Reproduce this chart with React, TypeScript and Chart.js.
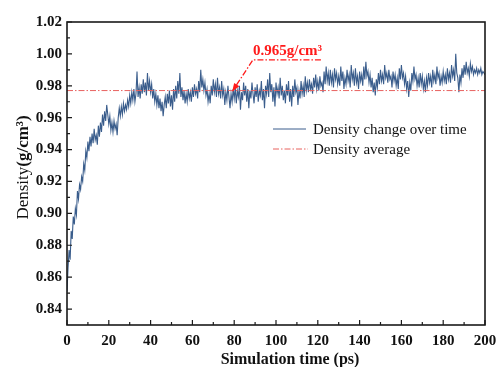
import React, { useEffect, useRef } from "react";
import { Chart, registerables } from "chart.js";

Chart.register(...registerables);

const FONT = '"Liberation Serif", "Times New Roman", serif';

// simulation time step between samples (ps)
const timeStepPs = 0.5;

// density samples (g/cm3), one per 0.5 ps from 0 to 200 ps
const density: number[] = [
  0.851, 0.866, 0.877, 0.871, 0.889, 0.884, 0.898, 0.893, 0.903, 0.899, 0.914, 0.909, 0.918, 0.915, 0.923, 0.920, 0.931, 0.927, 0.939, 0.935,
  0.945, 0.939, 0.948, 0.942, 0.950, 0.944, 0.953, 0.946, 0.949, 0.943, 0.955, 0.948, 0.957, 0.951, 0.962, 0.955, 0.964, 0.958, 0.968, 0.962,
  0.956, 0.961, 0.952, 0.957, 0.951, 0.958, 0.953, 0.956, 0.949, 0.960, 0.966, 0.961, 0.967, 0.962, 0.969, 0.964, 0.968, 0.965, 0.971, 0.967,
  0.974, 0.969, 0.976, 0.971, 0.978, 0.970, 0.975, 0.989, 0.973, 0.979, 0.972, 0.981, 0.975, 0.984, 0.976, 0.982, 0.974, 0.988, 0.977, 0.983,
  0.976, 0.981, 0.972, 0.978, 0.970, 0.975, 0.968, 0.974, 0.966, 0.972, 0.964, 0.970, 0.961, 0.968, 0.973, 0.966, 0.975, 0.969, 0.977, 0.967,
  0.974, 0.965, 0.978, 0.970, 0.980, 0.972, 0.983, 0.975, 0.988, 0.973, 0.979, 0.971, 0.977, 0.969, 0.975, 0.970, 0.978, 0.972, 0.976, 0.970,
  0.979, 0.973, 0.981, 0.975, 0.978, 0.972, 0.983, 0.976, 0.990, 0.979, 0.984, 0.977, 0.982, 0.974, 0.978, 0.970, 0.975, 0.969, 0.980, 0.974,
  0.984, 0.976, 0.981, 0.973, 0.985, 0.975, 0.979, 0.972, 0.983, 0.974, 0.978, 0.968, 0.976, 0.971, 0.980, 0.973, 0.966, 0.975, 0.970, 0.978,
  0.972, 0.979, 0.969, 0.977, 0.973, 0.980, 0.965, 0.976, 0.971, 0.982, 0.974, 0.980, 0.970, 0.978, 0.966, 0.977, 0.972, 0.982, 0.975, 0.969,
  0.979, 0.973, 0.981, 0.970, 0.977, 0.974, 0.983, 0.971, 0.978, 0.966, 0.980, 0.975, 0.984, 0.973, 0.988, 0.976, 0.981, 0.970, 0.979, 0.967,
  0.982, 0.975, 0.979, 0.972, 0.985, 0.974, 0.980, 0.971, 0.977, 0.969, 0.981, 0.974, 0.983, 0.970, 0.978, 0.967, 0.980, 0.973, 0.984, 0.976,
  0.979, 0.968, 0.977, 0.972, 0.983, 0.975, 0.980, 0.973, 0.986, 0.977, 0.982, 0.976, 0.984, 0.978, 0.981, 0.975, 0.985, 0.979, 0.987, 0.978,
  0.983, 0.977, 0.986, 0.980, 0.982, 0.976, 0.989, 0.981, 0.992, 0.983, 0.988, 0.980, 0.990, 0.982, 0.987, 0.979, 0.991, 0.984, 0.988, 0.981,
  0.986, 0.980, 0.992, 0.983, 0.989, 0.978, 0.985, 0.981, 0.990, 0.983, 0.987, 0.979, 0.993, 0.984, 0.988, 0.980, 0.991, 0.982, 0.986, 0.978,
  0.989, 0.983, 0.987, 0.980, 0.992, 0.984, 0.995, 0.986, 0.989, 0.982, 0.987, 0.979, 0.985, 0.976, 0.982, 0.974, 0.984, 0.979, 0.988, 0.981,
  0.990, 0.983, 0.987, 0.981, 0.993, 0.985, 0.988, 0.982, 0.990, 0.984, 0.986, 0.979, 0.989, 0.983, 0.987, 0.980, 0.985, 0.978, 0.991, 0.984,
  0.993, 0.985, 0.988, 0.981, 0.986, 0.978, 0.983, 0.973, 0.982, 0.977, 0.988, 0.983, 0.992, 0.984, 0.987, 0.980, 0.985, 0.979, 0.988, 0.981,
  0.986, 0.978, 0.983, 0.976, 0.985, 0.980, 0.988, 0.982, 0.986, 0.979, 0.990, 0.983, 0.987, 0.981, 0.992, 0.985, 0.988, 0.980, 0.986, 0.982,
  0.989, 0.983, 0.987, 0.981, 0.991, 0.984, 0.988, 0.982, 0.993, 0.986, 0.990, 0.983, 1.000, 0.988, 0.985, 0.976, 0.987, 0.982, 0.991, 0.985,
  0.993, 0.987, 0.995, 0.988, 0.991, 0.986, 0.994, 0.989, 0.992, 0.987, 0.990, 0.988, 0.991, 0.987, 0.990, 0.988, 0.991, 0.987, 0.989, 0.988,
  0.987,
];

const averageDensity = 0.977;
const timeRange = [0, 200];

const xTicks = [0, 20, 40, 60, 80, 100, 120, 140, 160, 180, 200];
const xMinorTicks = [10, 30, 50, 70, 90, 110, 130, 150, 170, 190];
const yTicks = [0.84, 0.86, 0.88, 0.9, 0.92, 0.94, 0.96, 0.98, 1.0, 1.02];
const yMinorTicks = [0.85, 0.87, 0.89, 0.91, 0.93, 0.95, 0.97, 0.99, 1.01];
const yRange = [0.83, 1.02];

const seriesLabels = ["Density change over time", "Density average"];
const xTitle = "Simulation time (ps)";
const yTitleMain = "Density";
const yTitleUnit = "(g/cm³)";

const annotationText = "0.965g/cm³";
const annotationTip = [79, 0.9763];
const annotationElbow = [89, 0.9963];
const annotationEnd = [121.5, 0.9963];

const BLUE = "#3a5d8c";
const AVG_RED = "#e8625f";
const ANN_RED = "#ff1a1a";

const decorPlugin = {
  id: "decor",
  afterDatasetsDraw(chart: any) {
    const { ctx, chartArea: ca, scales } = chart;
    const xs = scales.x;
    const ys = scales.y;
    ctx.save();

    // annotation arrow + text
    const tx = xs.getPixelForValue(annotationTip[0]);
    const ty = ys.getPixelForValue(annotationTip[1]);
    const ex = xs.getPixelForValue(annotationElbow[0]);
    const ey = ys.getPixelForValue(annotationElbow[1]);
    const endX = xs.getPixelForValue(annotationEnd[0]);
    const endY = ys.getPixelForValue(annotationEnd[1]);
    ctx.strokeStyle = ANN_RED;
    ctx.fillStyle = ANN_RED;
    ctx.lineWidth = 1.3;
    ctx.setLineDash([6, 2, 1.5, 2]);
    const ang = Math.atan2(ty - ey, tx - ex);
    const headLen = 9;
    ctx.beginPath();
    ctx.moveTo(endX, endY);
    ctx.lineTo(ex, ey);
    ctx.lineTo(tx - Math.cos(ang) * headLen * 0.8, ty - Math.sin(ang) * headLen * 0.8);
    ctx.stroke();
    ctx.setLineDash([]);
    ctx.beginPath();
    ctx.moveTo(tx, ty);
    ctx.lineTo(tx - Math.cos(ang - 0.35) * headLen, ty - Math.sin(ang - 0.35) * headLen);
    ctx.lineTo(tx - Math.cos(ang + 0.35) * headLen, ty - Math.sin(ang + 0.35) * headLen);
    ctx.closePath();
    ctx.fill();
    ctx.font = `bold 15px ${FONT}`;
    ctx.textAlign = "left";
    ctx.textBaseline = "alphabetic";
    ctx.fillText(annotationText, ex, ey - 5);

    // legend
    const lx = ca.left + 206;
    const ly1 = ca.top + 107;
    const ly2 = ca.top + 127;
    ctx.lineWidth = 1;
    ctx.strokeStyle = BLUE;
    ctx.beginPath();
    ctx.moveTo(lx, ly1);
    ctx.lineTo(lx + 33, ly1);
    ctx.stroke();
    ctx.strokeStyle = AVG_RED;
    ctx.setLineDash([6, 2, 1.5, 2]);
    ctx.beginPath();
    ctx.moveTo(lx, ly2);
    ctx.lineTo(lx + 35, ly2);
    ctx.stroke();
    ctx.setLineDash([]);
    ctx.fillStyle = "#111";
    ctx.font = `15px ${FONT}`;
    ctx.textBaseline = "middle";
    ctx.fillText(seriesLabels[0], lx + 40, ly1 + 1);
    ctx.fillText(seriesLabels[1], lx + 40, ly2 + 1);

    // frame
    ctx.strokeStyle = "#1a1a1a";
    ctx.lineWidth = 1.6;
    ctx.strokeRect(ca.left, ca.top, ca.right - ca.left, ca.bottom - ca.top);

    // ticks (inward)
    ctx.lineWidth = 1.2;
    ctx.beginPath();
    xTicks.forEach((v) => {
      const p = xs.getPixelForValue(v);
      ctx.moveTo(p, ca.bottom);
      ctx.lineTo(p, ca.bottom - 5);
    });
    xMinorTicks.forEach((v) => {
      const p = xs.getPixelForValue(v);
      ctx.moveTo(p, ca.bottom);
      ctx.lineTo(p, ca.bottom - 3);
    });
    yTicks.forEach((v) => {
      const p = ys.getPixelForValue(v);
      ctx.moveTo(ca.left, p);
      ctx.lineTo(ca.left + 5, p);
    });
    yMinorTicks.forEach((v) => {
      const p = ys.getPixelForValue(v);
      ctx.moveTo(ca.left, p);
      ctx.lineTo(ca.left + 3, p);
    });
    ctx.stroke();

    // axis titles
    ctx.fillStyle = "#111";
    ctx.font = `bold 16px ${FONT}`;
    ctx.textAlign = "center";
    ctx.textBaseline = "alphabetic";
    ctx.fillText(xTitle, (ca.left + ca.right) / 2 + 14, ca.bottom + 39);

    ctx.save();
    ctx.translate(28, (ca.top + ca.bottom) / 2 - 6);
    ctx.rotate(-Math.PI / 2);
    ctx.textAlign = "left";
    ctx.font = `17px ${FONT}`;
    const w1 = ctx.measureText(yTitleMain).width;
    ctx.font = `bold 17px ${FONT}`;
    const w2 = ctx.measureText(yTitleUnit).width;
    const start = -(w1 + w2) / 2;
    ctx.font = `17px ${FONT}`;
    ctx.fillText(yTitleMain, start, 0);
    ctx.font = `bold 17px ${FONT}`;
    ctx.fillText(yTitleUnit, start + w1, 0);
    ctx.restore();

    ctx.restore();
  },
};

export default function App() {
  const canvasRef = useRef<HTMLCanvasElement | null>(null);

  useEffect(() => {
    const canvas = canvasRef.current;
    if (!canvas) return;
    const series = density.map((d, i) => ({ x: i * timeStepPs, y: d }));
    const avg = timeRange.map((t) => ({ x: t, y: averageDensity }));
    const tickFont = { family: FONT, size: 15, weight: "bold" as const };
    const chart = new Chart(canvas, {
      type: "line",
      data: {
        datasets: [
          {
            label: seriesLabels[0],
            data: series,
            borderColor: BLUE,
            borderWidth: 1.1,
            pointRadius: 0,
            tension: 0,
            order: 1,
          },
          {
            label: seriesLabels[1],
            data: avg,
            borderColor: AVG_RED,
            borderWidth: 1,
            borderDash: [6, 2, 1.5, 2],
            pointRadius: 0,
            order: 0,
          },
        ],
      },
      options: {
        responsive: false,
        animation: false,
        layout: { padding: { top: 22, right: 12, left: 0, bottom: 0 } },
        plugins: { legend: { display: false }, tooltip: { enabled: false } },
        scales: {
          x: {
            type: "linear",
            min: timeRange[0],
            max: timeRange[1],
            afterBuildTicks: (s: any) => {
              s.ticks = xTicks.map((v) => ({ value: v }));
            },
            afterFit: (s: any) => {
              s.height = 42;
              s.paddingLeft = 0;
              s.paddingRight = 0;
            },
            grid: { display: false, drawTicks: false },
            border: { display: false },
            ticks: {
              font: tickFont,
              color: "#111",
              padding: 7,
              maxRotation: 0,
              autoSkip: false,
              callback: (v: any) => String(v),
            },
          },
          y: {
            type: "linear",
            min: yRange[0],
            max: yRange[1],
            afterBuildTicks: (s: any) => {
              s.ticks = yTicks.map((v) => ({ value: v }));
            },
            afterFit: (s: any) => {
              s.width = 67;
              s.paddingTop = 0;
              s.paddingBottom = 0;
            },
            grid: { display: false, drawTicks: false },
            border: { display: false },
            ticks: {
              font: tickFont,
              color: "#111",
              padding: 5,
              autoSkip: false,
              callback: (v: any) => Number(v).toFixed(2),
            },
          },
        },
      },
      plugins: [decorPlugin],
    });
    return () => chart.destroy();
  }, []);

  return (
    <div style={{ position: "fixed", left: 0, top: 0, width: 497, height: 367, background: "#fff" }}>
      <canvas ref={canvasRef} width={497} height={367} />
    </div>
  );
}
